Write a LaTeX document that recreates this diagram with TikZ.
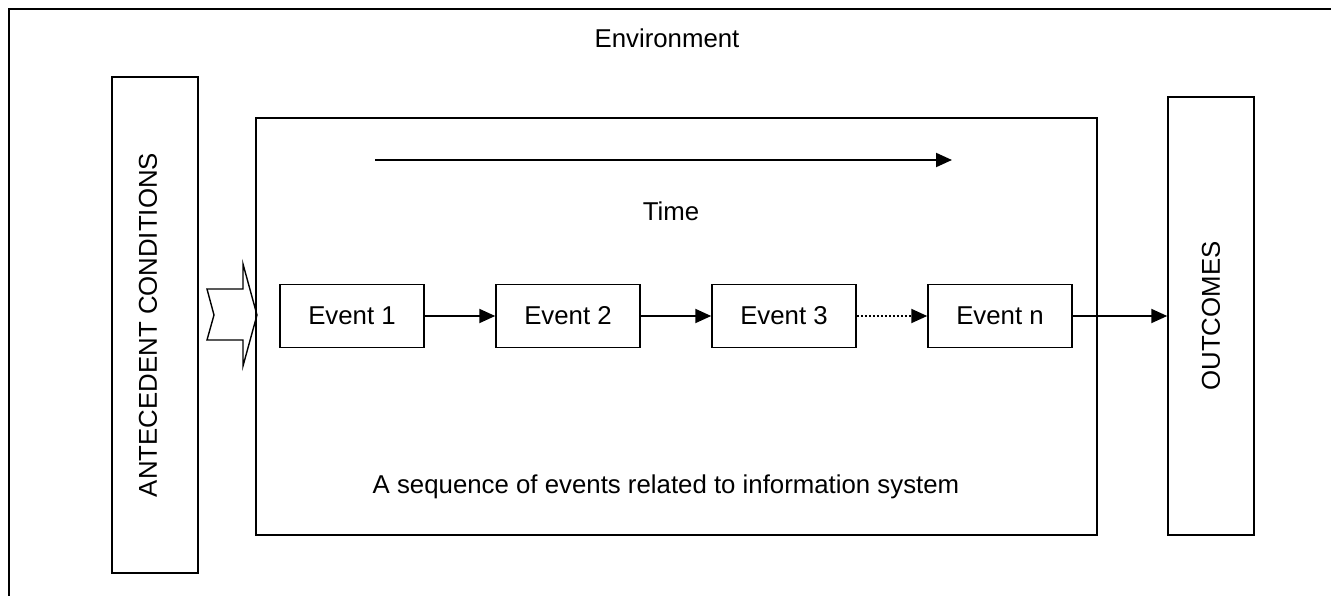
\documentclass[tikz,border=0pt]{standalone}
\usepackage{fontspec}
\setmainfont{Liberation Sans}
\usetikzlibrary{arrows.meta}

\begin{document}
\begin{tikzpicture}[x=1pt, y=-1pt, > = {Triangle[length=16pt, width=14pt]}, font=\fontsize{25.8}{30}\selectfont]
                \tikzstyle{caixa}=[rectangle, draw, line width=1.5pt, inner sep=0pt]
                \tikzstyle{evento}=[caixa, minimum width=144pt, minimum height=63pt]
                \tikzstyle{seta}=[->, line width=2pt]

                    \useasboundingbox (0,0) rectangle (1331,596);
                    \clip (0,0) rectangle (1331,596);
                    \draw[line width=2.2pt] (9,9) rectangle (1340,610);

                    % Caixas
                    \node[caixa, minimum width=86pt, minimum height=496pt] (ant) at (155,325) {};
                    \node[rotate=90] (antxt) at (148,325) {ANTECEDENT CONDITIONS};
                    \node[caixa, minimum width=841pt, minimum height=417pt] (seq) at (676.5,326.5) {};
                    \node[caixa, rotate=90, minimum width=438pt, minimum height=86pt] (out) at (1211,316) {OUTCOMES};

                    % Eventos
                    \node[evento] (e1) at (352,316) {Event 1};
                    \node[evento] (e2) at (568,316) {Event 2};
                    \node[evento] (e3) at (784,316) {Event 3};
                    \node[evento] (en) at (1000,316) {Event n};

                    % Textos
                    \node (env) at (667,38) {Environment};
                    \node (time) at (671,211) {Time};
                    \node (desc) at (666,487) {A sequence of events related to information system};

                    % Setas
                    \coordinate (t0) at (375,160);
                    \coordinate (t1) at (952,160);
                    \draw[seta] (t0) -- (t1);
                    \draw[seta] (e1) -- (e2);
                    \draw[seta] (e2) -- (e3);
                    \draw[->, line width=2pt, dotted] (e3) -- (en);
                    \draw[seta] (en.east) -- (en.east -| out.north);

                    % Seta de entrada
                    \draw[line width=1.4pt, line join=miter] (207,289) -- (243,289) -- (243,264) -- (257,315)
                        -- (243,366) -- (243,340) -- (207,340) -- (214,315) -- cycle;

            \end{tikzpicture}
\end{document}
